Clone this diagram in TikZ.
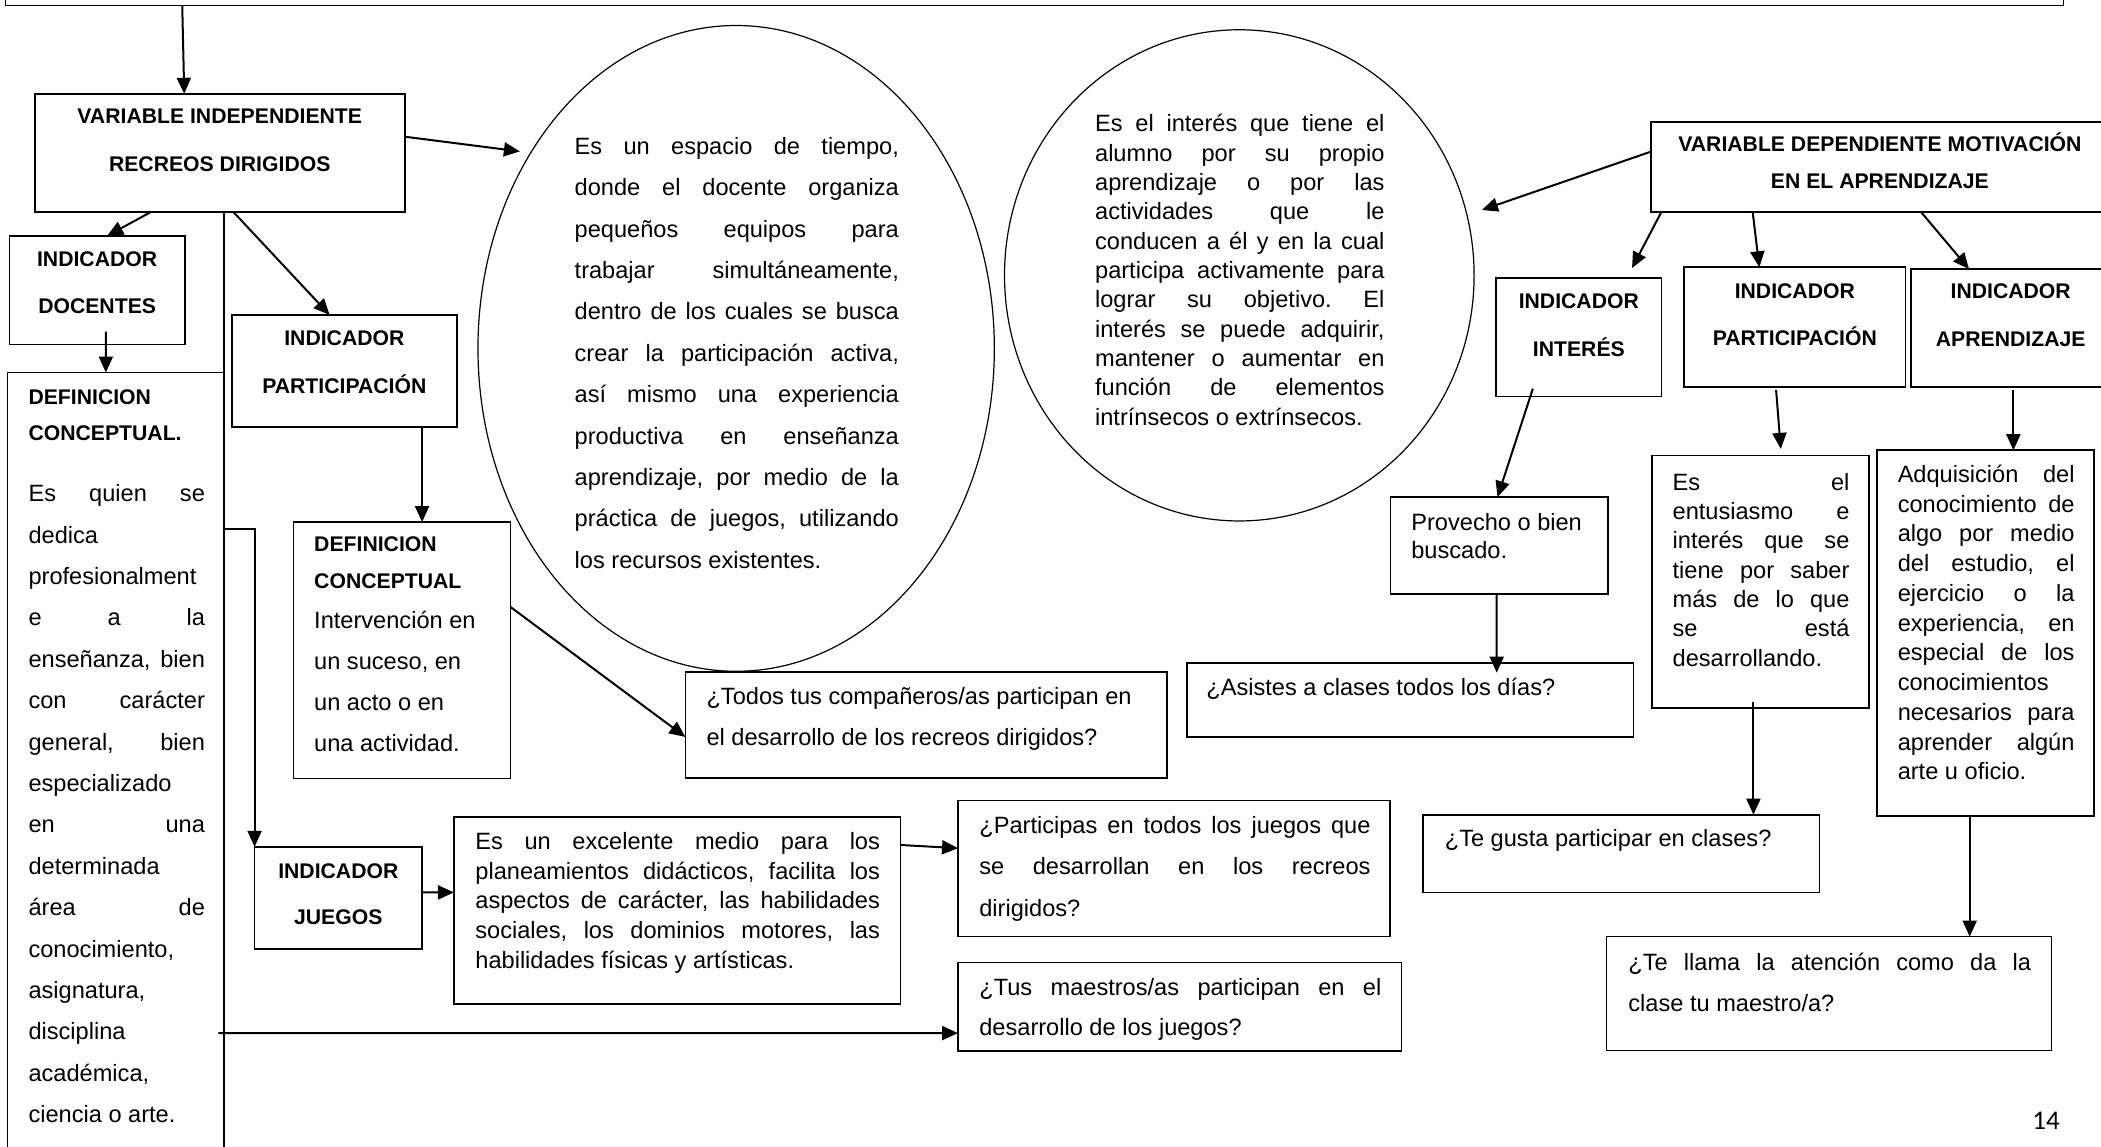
\documentclass[tikz,border=0pt]{standalone}
\usepackage{fontspec}
\setmainfont{Liberation Sans}
\newfontfamily\carlitofont{Carlito}
\usetikzlibrary{arrows.meta,shapes.geometric,fit,calc}
\newcommand\TBlk[3]{\vtop{\hsize=#1\relax\baselineskip=#2\relax\lineskiplimit=-\maxdimen\frenchspacing #3}}
\newcommand\JL[1]{\hbox to\hsize{\spaceskip=.2em plus 1fill\relax #1}}
\newcommand\NL[1]{\hbox{#1}}
\newcommand\CL[1]{\hbox to\hsize{\hfil#1\hfil}}
\newcommand\bodyfont{\fontsize{11.8pt}{14pt}\selectfont}
\newcommand\lblfont{\bfseries\fontsize{10.6pt}{12pt}\selectfont}
\tikzset{
  box/.style={draw, line width=0.85pt, fill=white, inner sep=0pt, outer sep=0pt, rectangle},
  oval/.style={draw, ellipse, line width=0.6pt, inner sep=0pt, outer sep=0pt},
  arr/.style={line width=1pt, -{Triangle[length=8pt,width=7pt]}},
  txt/.style={inner sep=0pt, anchor=base west, font=\bodyfont},
  btxt/.style={inner sep=0pt, anchor=base west, font=\lblfont},
  lbl/.style={inner sep=0pt, anchor=base, font=\lblfont}
}
\begin{document}
\begin{tikzpicture}[x=0.67pt,y=-0.67pt]
\useasboundingbox (0,0) rectangle (1568,856);
\clip (0,0) rectangle (1568,856);

% ellipses
\node[oval, minimum width=258.2pt, minimum height=322.9pt] (e1) at (549.4,260) {};
\node[oval, minimum width=234.8pt, minimum height=245.6pt] (e2) at (924.9,205.5) {};

% boxes
\node[box, fit={(4,-20) (1540,4)}] (top) {};
\node[box, fit={(26,70) (302,158)}] (vi) {};
\node[box, fit={(7,176) (138,257)}] (doc) {};
\node[box, fit={(5.5,278) (167,880)}] (def1) {};
\node[box, fit={(173,235) (341,318.6)}] (ipart) {};
\node[box, fit={(219,389.6) (381,581)}] (def2) {};
\node[box, fit={(190,632) (315,708)}] (juegos) {};
\node[box, fit={(338.8,609.5) (672,749.3)}] (excel) {};
\node[box, fit={(511.5,501.5) (871,580.7)}] (todos) {};
\node[box, fit={(715,597.5) (1037.5,699)}] (partq) {};
\node[box, fit={(715,718.4) (1046,784.4)}] (tusq) {};
\node[box, fit={(1232,90.8) (1575,158)}] (vd) {};
\node[box, fit={(1116.6,207.6) (1240,296)}] (interes) {};
\node[box, fit={(1257,199.5) (1422,288.6)}] (partr) {};
\node[box, fit={(1426,200.8) (1575,289)}] (apr) {};
\node[box, fit={(1037.8,371) (1200,443.3)}] (prov) {};
\node[box, fit={(886,495) (1219,550)}] (asis) {};
\node[box, fit={(1233,340) (1395,528.6)}] (entus) {};
\node[box, fit={(1401,336) (1563,609)}] (adq) {};
\node[box, fit={(1062,608) (1358,666)}] (tegusta) {};
\node[box, fit={(1199,699) (1531,784)}] (tellama) {};

% connectors
\draw[arr] ($(top.south west)+(132,0)$) -- ($(vi.north west)+(111.5,0)$);
\draw[arr] ($(vi.north east)+(0,32)$) -- ($(e1)+(-161.4,-147)$);
\draw[arr] ($(vi.south west)+(87,0)$) -- ($(doc.north west)+(73,0)$);
\draw[arr] ($(doc.south west)+(72,-9.5)$) -- ($(def1.north west)+(73.5,0)$);
\draw[arr] ($(vi.south west)+(148,0)$) -- ($(ipart.north west)+(73,0)$);
\draw[arr] ($(vi.south west)+(141,0)$) -- ++(0,237) -| (juegos.north west);
\draw[arr] ($(ipart.south west)+(142,0)$) -- ($(def2.north west)+(96,0)$);
\draw[arr] ($(def2.north east)+(0,63.4)$) -- ($(todos.north west)+(0,48.5)$);
\draw[arr] ($(juegos.north east)+(0,34)$) -- ($(excel.north west)+(0,56.5)$);
\draw[arr] ($(excel.north east)+(0,21.1)$) -- ($(partq.north west)+(0,35.5)$);
\draw[arr] ($(def1.north east)+(-4,493)$) -- ($(tusq.north west)+(0,52.6)$);
\draw[arr] ($(vd.north west)+(0,22.4)$) -- ($(e2)+(181.1,-48.8)$);
\draw[arr] ($(vd.south west)+(8,0)$) -- ($(interes.north west)+(101.4,-7.6)$);
\draw[arr] ($(vd.south west)+(76,0)$) -- ($(partr.north west)+(56,0)$);
\draw[arr] ($(vd.south west)+(201.5,0)$) -- ($(apr.north west)+(43.5,0)$);
\draw[arr] ($(interes.south west)+(27.4,-6)$) -- ($(prov.north west)+(79.8,0)$);
\draw[arr] ($(prov.south west)+(79.2,0)$) -- ($(asis.north west)+(231,7)$);
\draw[arr] ($(partr.south west)+(68.5,2.4)$) -- ($(entus.north west)+(96,-5)$);
\draw[arr] ($(entus.south west)+(75.6,-5)$) -- ($(tegusta.north west)+(246.6,0)$);
\draw[arr] ($(apr.south west)+(76.6,2)$) -- ($(adq.north west)+(101.6,0)$);
\draw[arr] ($(adq.south west)+(69,0)$) -- ($(tellama.north west)+(271,0)$);

% bold labels
\node[lbl] (lvi) at (164,92.5) {\TBlk{260pt}{23.8pt}{\CL{VARIABLE INDEPENDIENTE}\CL{RECREOS DIRIGIDOS}}};
\node[lbl] (ldoc) at (72.5,199) {\TBlk{200pt}{23.3pt}{\CL{INDICADOR}\CL{DOCENTES}}};
\node[lbl] (lipart) at (257,258.2) {\TBlk{200pt}{23.65pt}{\CL{INDICADOR}\CL{PARTICIPACIÓN}}};
\node[lbl] (ljuegos) at (252.5,655.5) {\TBlk{200pt}{23.3pt}{\CL{INDICADOR}\CL{JUEGOS}}};
\node[lbl] (lvd) at (1403,113) {\TBlk{260pt}{18.4pt}{\CL{VARIABLE DEPENDIENTE MOTIVACIÓN}\CL{EN EL APRENDIZAJE}}};
\node[lbl] (linteres) at (1178.3,230) {\TBlk{200pt}{24pt}{\CL{INDICADOR}\CL{INTERÉS}}};
\node[lbl] (lpartr) at (1339.5,222.6) {\TBlk{200pt}{23.4pt}{\CL{INDICADOR}\CL{PARTICIPACIÓN}}};
\node[lbl] (lapr) at (1500.6,222.6) {\TBlk{200pt}{24.1pt}{\CL{INDICADOR}\CL{APRENDIZAJE}}};
\node[btxt] (ldef1) at (21,301.5) {\TBlk{100pt}{18.4pt}{\NL{DEFINICION}\NL{CONCEPTUAL.}}};
\node[btxt] (ldef2) at (234.2,411.7) {\TBlk{100pt}{18.3pt}{\NL{DEFINICION}\NL{CONCEPTUAL}}};

% body texts
\node[txt] (te1) at (428.6,115.3) {\TBlk{162.1pt}{20.68pt}{%
\JL{Es un espacio de tiempo,}
\JL{donde el docente organiza}
\JL{pequeños equipos para}
\JL{trabajar simultáneamente,}
\JL{dentro de los cuales se busca}
\JL{crear la participación activa,}
\JL{así mismo una experiencia}
\JL{productiva en enseñanza}
\JL{aprendizaje, por medio de la}
\JL{práctica de juegos, utilizando}
\NL{los recursos existentes.}}};

\node[txt] (te2) at (817,98.3) {\TBlk{144.7pt}{14.67pt}{%
\JL{Es el interés que tiene el}
\JL{alumno por su propio}
\JL{aprendizaje o por las}
\JL{actividades que le}
\JL{conducen a él y en la cual}
\JL{participa activamente para}
\JL{lograr su objetivo. El}
\JL{interés se puede adquirir,}
\JL{mantener o aumentar en}
\JL{función de elementos}
\NL{intrínsecos o extrínsecos.}}};

\node[txt] (tdef1) at (21,374.4) {\TBlk{88.2pt}{20.7pt}{%
\JL{Es quien se}
\NL{dedica}
\NL{profesionalment}
\JL{e a la}
\JL{enseñanza, bien}
\JL{con carácter}
\JL{general, bien}
\NL{especializado}
\JL{en una}
\NL{determinada}
\JL{área de}
\NL{conocimiento,}
\NL{asignatura,}
\NL{disciplina}
\NL{académica,}
\NL{ciencia o arte.}}};

\node[txt] (tdef2) at (234.2,469) {\TBlk{100pt}{20.57pt}{%
\NL{Intervención en}
\NL{un suceso, en}
\NL{un acto o en}
\NL{una actividad.}}};

\node[txt] (ttodos) at (527,526) {\TBlk{250pt}{20.1pt}{%
\NL{¿Todos tus compañeros/as participan en}
\NL{el desarrollo de los recreos dirigidos?}}};

\node[txt] (texcel) at (354.5,633.7) {\TBlk{202.3pt}{14.94pt}{%
\JL{Es un excelente medio para los}
\JL{planeamientos didácticos, facilita los}
\JL{aspectos de carácter, las habilidades}
\JL{sociales, los dominios motores, las}
\NL{habilidades físicas y artísticas.}}};

\node[txt] (tpartq) at (730.6,621.8) {\TBlk{195.6pt}{20.77pt}{%
\JL{¿Participas en todos los juegos que}
\JL{se desarrollan en los recreos}
\NL{dirigidos?}}};

\node[txt] (ttusq) at (730.6,742.6) {\TBlk{201pt}{20.03pt}{%
\JL{¿Tus maestros/as participan en el}
\NL{desarrollo de los juegos?}}};

\node[txt] (tasis) at (900,518.7) {¿Asistes a clases todos los días?};

\node[txt] (tprov) at (1053,396) {\TBlk{100pt}{14.07pt}{%
\NL{Provecho o bien}
\NL{buscado.}}};

\node[txt] (tentus) at (1248,365.7) {\TBlk{88.4pt}{14.67pt}{%
\JL{Es el}
\JL{entusiasmo e}
\JL{interés que se}
\JL{tiene por saber}
\JL{más de lo que}
\JL{se está}
\NL{desarrollando.}}};

\node[txt] (tadq) at (1416,360) {\TBlk{88.4pt}{14.87pt}{%
\JL{Adquisición del}
\JL{conocimiento de}
\JL{algo por medio}
\JL{del estudio, el}
\JL{ejercicio o la}
\JL{experiencia, en}
\JL{especial de los}
\NL{conocimientos}
\JL{necesarios para}
\JL{aprender algún}
\NL{arte u oficio.}}};

\node[txt] (tgusta) at (1078,632) {¿Te gusta participar en clases?};

\node[txt] (tllama) at (1215,724) {\TBlk{201.3pt}{20.77pt}{%
\JL{¿Te llama la atención como da la}
\NL{clase tu maestro/a?}}};

\node[inner sep=0pt, anchor=base west, font=\carlitofont\fontsize{13.5pt}{15pt}\selectfont] (pg) at (1516.5,842.6) {14};
\end{tikzpicture}
\end{document}
